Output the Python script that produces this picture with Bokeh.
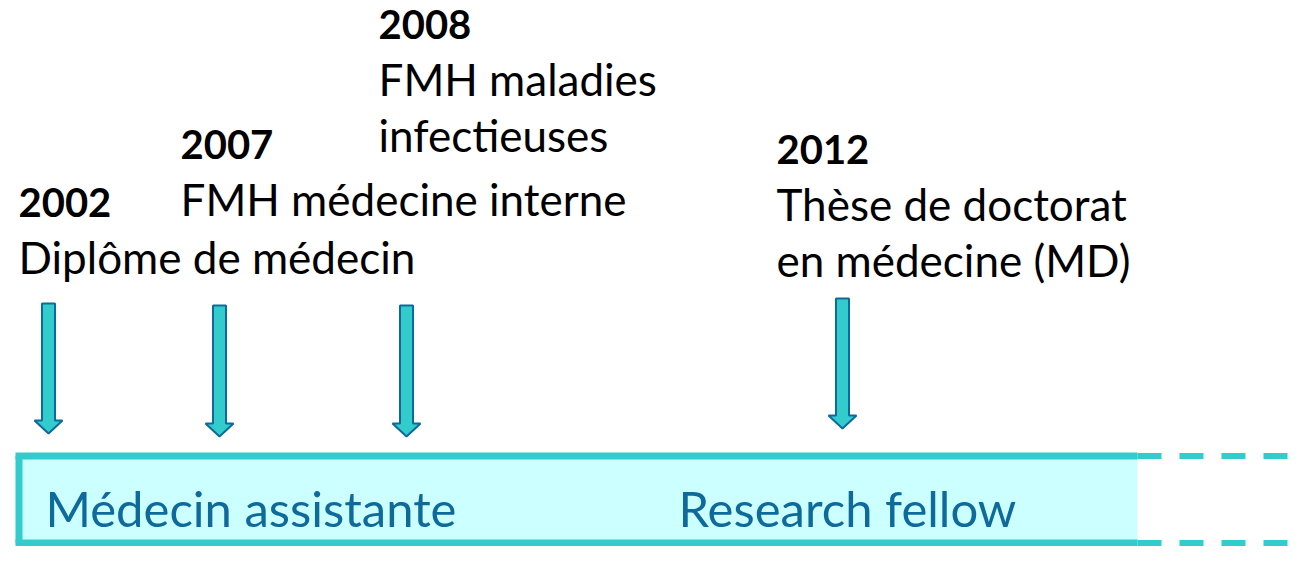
from bokeh.plotting import figure
from bokeh.models import Range1d
from bokeh.core.properties import value
from bokeh.embed import file_html
from bokeh.resources import INLINE

# ---- data ----
years = ["2002", "2007", "2008", "2012"]
event_lines = [
    ["Diplôme de médecin"],
    ["FMH médecine interne"],
    ["FMH maladies", "infectieuses"],
    ["Thèse de doctorat", "en médecine (MD)"],
]
phases = ["Médecin assistante", "Research fellow"]

# ---- layout (pixel coordinates) ----
arrow_x = [48, 219, 406, 842]
arrow_top = [303, 305, 305, 298]
arrow_tip = [433, 436, 436, 428]
label_x = [18, 180, 378, 776]
year_baseline = [218, 160, 40, 165]
line_gap = 56
phase_x = [45, 678]
phase_baseline = 527
bar_left, bar_right, bar_top, bar_bottom = 18.5, 1137, 455.5, 542.5
page_right = 1300

FONT = value("Lato")
CYAN = "#33CCCC"
LIGHT = "#CCFFFF"
DARK_BLUE = "#0F6A9C"
YEAR_SIZE, TEXT_SIZE, PHASE_SIZE = 40, 44, 49
BASE_SHIFT = 0.4  # correction of the rendered baseline, in em

p = figure(width=1300, height=546, output_backend="svg", toolbar_location=None,
           x_range=Range1d(0, 1300), y_range=Range1d(546, 0),
           min_border=0, outline_line_color=None)
p.axis.visible = False
p.grid.visible = False
p.background_fill_color = "white"
p.border_fill_color = "white"

# bar fill
p.quad(left=[bar_left], right=[bar_right], top=[bar_top], bottom=[bar_bottom],
       fill_color=LIGHT, line_color=None)
# solid border (left, top, bottom)
p.multi_line(xs=[[bar_left, bar_left], [bar_left - 3.5, bar_right], [bar_left - 3.5, bar_right]],
             ys=[[bar_top, bar_bottom], [bar_top, bar_top], [bar_bottom, bar_bottom]],
             line_color=CYAN, line_width=7)
# dashed continuation
p.multi_line(xs=[[bar_right, page_right], [bar_right, page_right]],
             ys=[[bar_top, bar_top], [bar_bottom, bar_bottom]],
             line_color=CYAN, line_width=6, line_dash="24 18")

# arrows
shaft_half, head_half, head_len = 6.5, 14, 13
xs, ys = [], []
for cx, top, tip in zip(arrow_x, arrow_top, arrow_tip):
    base = tip - head_len
    xs.append([cx - shaft_half, cx + shaft_half, cx + shaft_half, cx + head_half,
               cx, cx - head_half, cx - shaft_half])
    ys.append([top, top, base, base, tip, base, base])
p.patches(xs=xs, ys=ys, fill_color=CYAN, line_color=DARK_BLUE, line_width=2)

# years
p.text(x=label_x, y=year_baseline, text=years, text_font=FONT,
       text_font_size=f"{YEAR_SIZE}px", text_font_style="bold", text_color="black",
       text_baseline="alphabetic", text_align="left", y_offset=-BASE_SHIFT * YEAR_SIZE)

# event descriptions
tx, ty, tt = [], [], []
for lx, yb, lines in zip(label_x, year_baseline, event_lines):
    for i, line in enumerate(lines):
        tx.append(lx)
        ty.append(yb + line_gap * (i + 1))
        tt.append(line)
p.text(x=tx, y=ty, text=tt, text_font=FONT, text_font_size=f"{TEXT_SIZE}px",
       text_color="black", text_baseline="alphabetic", text_align="left",
       y_offset=-BASE_SHIFT * TEXT_SIZE)

# phases
p.text(x=phase_x, y=[phase_baseline] * len(phases), text=phases, text_font=FONT,
       text_font_size=f"{PHASE_SIZE}px", text_color=DARK_BLUE, text_baseline="alphabetic",
       text_align="left", y_offset=-BASE_SHIFT * PHASE_SIZE)

open("out.html", "w").write(file_html(p, INLINE))
